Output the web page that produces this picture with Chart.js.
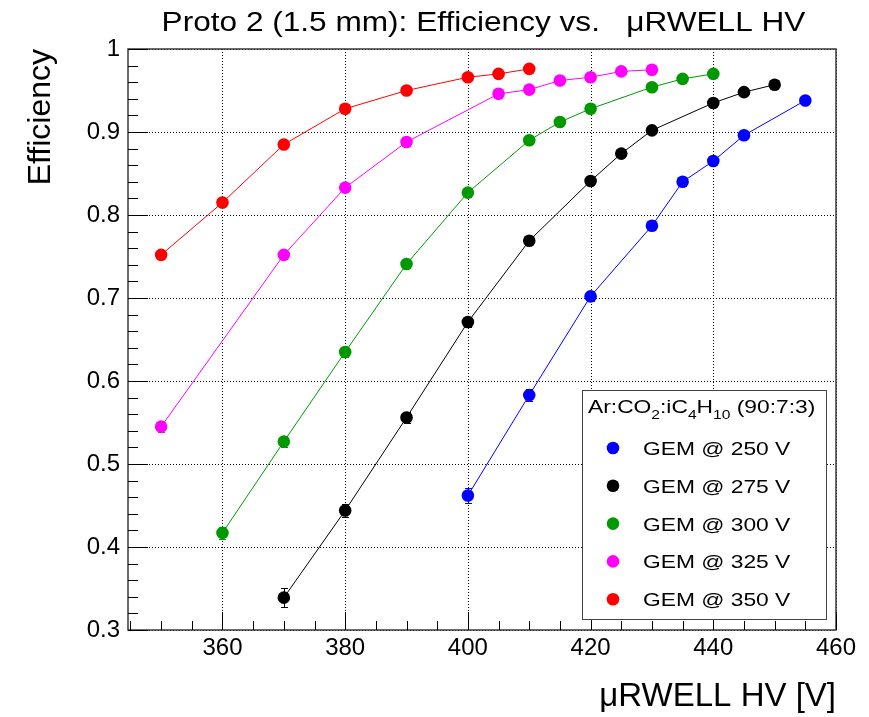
<!DOCTYPE html>
<html><head><meta charset="utf-8">
<script src="https://cdn.jsdelivr.net/npm/chart.js@4/dist/chart.umd.min.js"></script>
<style>html,body{margin:0;padding:0;background:#fff}canvas{display:block}</style>
</head><body>
<canvas id="c" width="869" height="717"></canvas>
<script>
// ---------- data ----------
const chartTitle = 'Proto 2 (1.5 mm): Efficiency vs.   \u03bcRWELL HV';
const xTitle = '\u03bcRWELL HV [V]';
const yTitle = 'Efficiency';
// legend header pieces: [text, isSubscript]
const legendHeader = [['Ar:CO', 0], ['2', 1], [':iC', 0], ['4', 1], ['H', 0], ['10', 1], [' (90:7:3)', 0]];
const seriesLabels = ['GEM @ 250 V', 'GEM @ 275 V', 'GEM @ 300 V', 'GEM @ 325 V', 'GEM @ 350 V'];
const seriesColors = ['#0000ff', '#000000', '#009900', '#ff00ff', '#ff0000'];

const hv250  = [400, 410, 420, 430, 435, 440, 445, 455];
const eff250 = [0.462, 0.583, 0.702, 0.787, 0.840, 0.865, 0.896, 0.938];
const err250 = [0.0085, 0.007, 0.006, 0.005, 0.005, 0.005, 0.004, 0.004];

const hv275  = [370, 380, 390, 400, 410, 420, 425, 430, 440, 445, 450];
const eff275 = [0.339, 0.444, 0.556, 0.671, 0.769, 0.841, 0.874, 0.902, 0.935, 0.948, 0.957];
const err275 = [0.0115, 0.008, 0.007, 0.006, 0.005, 0.005, 0.004, 0.004, 0.004, 0.003, 0.003];

const hv300  = [360, 370, 380, 390, 400, 410, 415, 420, 430, 435, 440];
const eff300 = [0.417, 0.527, 0.635, 0.741, 0.827, 0.890, 0.912, 0.928, 0.954, 0.964, 0.970];
const err300 = [0.0075, 0.007, 0.006, 0.005, 0.005, 0.004, 0.004, 0.004, 0.003, 0.003, 0.003];

const hv325  = [350, 370, 380, 390, 405, 410, 415, 420, 425, 430];
const eff325 = [0.545, 0.752, 0.833, 0.888, 0.946, 0.951, 0.962, 0.966, 0.973, 0.975];
const err325 = [0.006, 0.005, 0.005, 0.004, 0.003, 0.003, 0.003, 0.003, 0.003, 0.003];

const hv350  = [350, 360, 370, 380, 390, 400, 405, 410];
const eff350 = [0.752, 0.815, 0.885, 0.928, 0.950, 0.966, 0.970, 0.976];
const err350 = [0.005, 0.004, 0.004, 0.003, 0.003, 0.003, 0.003, 0.003];

const xTickValues = [360, 380, 400, 420, 440, 460];
const xTickLabels = ['360', '380', '400', '420', '440', '460'];
const xMinorTicks = [345, 350, 355, 365, 370, 375, 385, 390, 395, 405, 410, 415, 425, 430, 435, 445, 450, 455];
const yTickValues = [0.3, 0.4, 0.5, 0.6, 0.7, 0.8, 0.9, 1.0];
const yTickLabels = ['0.3', '0.4', '0.5', '0.6', '0.7', '0.8', '0.9', '1'];
const yMinorTicks = [0.32, 0.34, 0.36, 0.38, 0.42, 0.44, 0.46, 0.48, 0.52, 0.54, 0.56, 0.58, 0.62, 0.64, 0.66, 0.68,
                     0.72, 0.74, 0.76, 0.78, 0.82, 0.84, 0.86, 0.88, 0.92, 0.94, 0.96, 0.98];
const xRange = [344.6, 460];
const yRange = [0.3, 1.0];

// ---------- build ----------
const FONT = '"Liberation Sans", Arimo, Helvetica, Arial, sans-serif';
const allHV = [hv250, hv275, hv300, hv325, hv350];
const allEff = [eff250, eff275, eff300, eff325, eff350];
const allErr = [err250, err275, err300, err325, err350];

const datasets = seriesLabels.map((lab, k) => ({
  label: lab,
  data: allHV[k].map((x, i) => ({ x: x, y: allEff[k][i] })),
  errors: allErr[k],
  showLine: true,
  tension: 0,
  borderColor: seriesColors[k],
  backgroundColor: seriesColors[k],
  borderWidth: 1,
  pointRadius: 6.3,
  pointBackgroundColor: seriesColors[k],
  pointBorderWidth: 0,
  pointHoverRadius: 6.3
}));

function stretchedText(ctx, text, x, y, sx) {
  ctx.save();
  ctx.translate(x, y);
  ctx.scale(sx, 1);
  ctx.fillText(text, 0, 0);
  ctx.restore();
}

const decorPlugin = {
  id: 'decor',
  beforeDatasetsDraw(chart) {
    const ctx = chart.ctx, a = chart.chartArea, xs = chart.scales.x, ys = chart.scales.y;
    ctx.save();
    // dotted grid
    ctx.strokeStyle = '#000';
    ctx.lineWidth = 1;
    ctx.setLineDash([1, 2]);
    xTickValues.forEach(v => {
      const p = Math.round(xs.getPixelForValue(v)) + 0.5;
      ctx.beginPath(); ctx.moveTo(p, a.top); ctx.lineTo(p, a.bottom); ctx.stroke();
    });
    yTickValues.forEach(v => {
      const p = Math.round(ys.getPixelForValue(v)) + 0.5;
      ctx.beginPath(); ctx.moveTo(a.left, p); ctx.lineTo(a.right, p); ctx.stroke();
    });
    ctx.setLineDash([]);
    // error bars
    chart.data.datasets.forEach(ds => {
      ctx.strokeStyle = ds.borderColor;
      ctx.lineWidth = 1;
      ds.data.forEach((pt, i) => {
        const e = ds.errors[i];
        const px = Math.round(xs.getPixelForValue(pt.x)) + 0.5;
        const y1 = ys.getPixelForValue(pt.y - e), y2 = ys.getPixelForValue(pt.y + e);
        ctx.beginPath();
        ctx.moveTo(px, y1); ctx.lineTo(px, y2);
        ctx.moveTo(px - 3.5, Math.round(y1) + 0.5); ctx.lineTo(px + 3.5, Math.round(y1) + 0.5);
        ctx.moveTo(px - 3.5, Math.round(y2) + 0.5); ctx.lineTo(px + 3.5, Math.round(y2) + 0.5);
        ctx.stroke();
      });
    });
    ctx.restore();
  },
  afterDraw(chart) {
    const ctx = chart.ctx, a = chart.chartArea, xs = chart.scales.x, ys = chart.scales.y;
    ctx.save();
    // frame
    ctx.strokeStyle = '#3a3a3a';
    ctx.lineWidth = 1.5;
    ctx.strokeRect(a.left, a.top, a.right - a.left, a.bottom - a.top);
    // ticks (inside)
    ctx.strokeStyle = '#000';
    ctx.lineWidth = 1;
    ctx.beginPath();
    xTickValues.forEach(v => { const p = Math.round(xs.getPixelForValue(v)) + 0.5; ctx.moveTo(p, a.bottom); ctx.lineTo(p, a.bottom - 18); });
    xMinorTicks.forEach(v => { const p = Math.round(xs.getPixelForValue(v)) + 0.5; ctx.moveTo(p, a.bottom); ctx.lineTo(p, a.bottom - 9); });
    yTickValues.forEach(v => { const p = Math.round(ys.getPixelForValue(v)) + 0.5; ctx.moveTo(a.left, p); ctx.lineTo(a.left + 20, p); });
    yMinorTicks.forEach(v => { const p = Math.round(ys.getPixelForValue(v)) + 0.5; ctx.moveTo(a.left, p); ctx.lineTo(a.left + 10, p); });
    ctx.stroke();

    // title
    ctx.fillStyle = '#000';
    ctx.textBaseline = 'alphabetic';
    ctx.textAlign = 'left';
    ctx.font = '27px ' + FONT;
    const sxT = 1.17;
    const tw = ctx.measureText(chartTitle).width * sxT;
    stretchedText(ctx, chartTitle, 483.5 - tw / 2, 31, sxT);

    // legend box
    const bx = 582.5, by = 390.5, bw = 244, bh = 229;
    ctx.fillStyle = '#fff';
    ctx.fillRect(bx, by, bw, bh);
    ctx.strokeStyle = '#444';
    ctx.lineWidth = 1;
    ctx.strokeRect(bx, by, bw, bh);
    const sxL = 1.2;
    ctx.fillStyle = '#000';
    let hx = 588;
    legendHeader.forEach(([t, sub]) => {
      ctx.font = (sub ? '13px ' : '19px ') + FONT;
      const w = ctx.measureText(t).width * sxL;
      stretchedText(ctx, t, hx, sub ? 419 : 413, sxL);
      hx += w;
    });
    chart.data.datasets.forEach((ds, i) => {
      const cy = 448 + i * 37.8;
      ctx.fillStyle = ds.backgroundColor;
      ctx.beginPath(); ctx.arc(613, cy, 6.3, 0, Math.PI * 2); ctx.fill();
      ctx.fillStyle = '#000';
      ctx.font = '19px ' + FONT;
      stretchedText(ctx, ds.label, 643, cy + 7, sxL);
    });
    ctx.restore();
  }
};

new Chart(document.getElementById('c'), {
  type: 'scatter',
  data: { datasets: datasets },
  options: {
    responsive: false,
    animation: false,
    devicePixelRatio: 1,
    layout: { padding: { top: 49, right: 33, left: 0, bottom: 0 } },
    plugins: { legend: { display: false }, title: { display: false }, tooltip: { enabled: false } },
    events: [],
    scales: {
      x: {
        type: 'linear', min: xRange[0], max: xRange[1],
        afterBuildTicks: s => { s.ticks = xTickValues.map(v => ({ value: v })); },
        afterFit: s => { s.height = 87; },
        grid: { display: false, drawTicks: false },
        border: { display: false },
        ticks: { font: { family: FONT, size: 24 }, color: '#000', padding: 4, maxRotation: 0, autoSkip: false,
                 callback: (v, i) => xTickLabels[i] },
        title: { display: true, text: xTitle, align: 'end', color: '#000', font: { family: FONT, size: 33 },
                 padding: { top: 0, bottom: 0 } }
      },
      y: {
        type: 'linear', min: yRange[0], max: yRange[1],
        afterBuildTicks: s => { s.ticks = yTickValues.map(v => ({ value: v })); },
        afterFit: s => { s.width = 128; },
        grid: { display: false, drawTicks: false },
        border: { display: false },
        ticks: { font: { family: FONT, size: 24 }, color: '#000', padding: 8, autoSkip: false,
                 callback: (v, i) => yTickLabels[i] },
        title: { display: true, text: yTitle, align: 'end', color: '#000', font: { family: FONT, size: 32 },
                 padding: { top: 22, bottom: 0 } }
      }
    }
  },
  plugins: [decorPlugin]
});
</script>
</body></html>
